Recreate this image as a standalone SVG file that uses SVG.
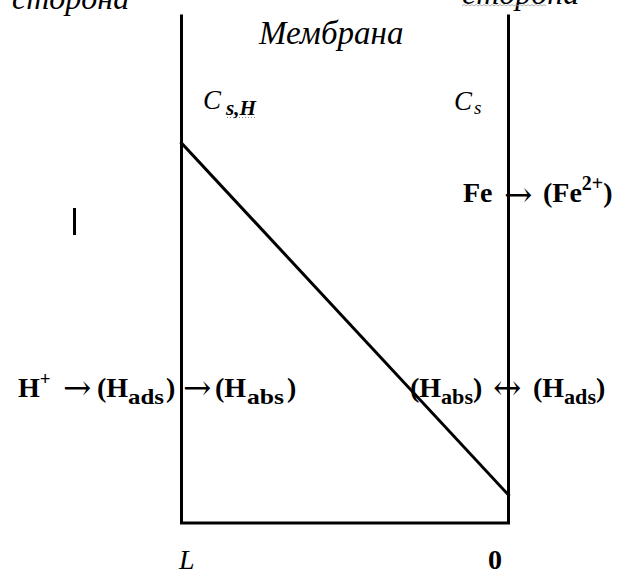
<svg xmlns="http://www.w3.org/2000/svg" width="617" height="570" viewBox="0 0 617 570">
<style>
.it{font-family:"Liberation Serif","Times New Roman",serif;font-style:italic;fill:#000}
.b{font-family:"Liberation Serif","Times New Roman",serif;font-weight:bold;fill:#000}
.ar{font-family:"DejaVu Serif","DejaVu Sans",serif;font-weight:normal;font-size:34px;fill:#000}
.sub{font-size:22px}
.ln{stroke:#000;stroke-width:3;fill:none;stroke-linecap:square}
</style>
<rect width="617" height="570" fill="#fff"/>
<g id="side-left"><text class="it" x="12" y="9" font-size="32">сторона</text></g>
<g id="side-right"><text class="it" x="462" y="3.5" font-size="32">сторона</text>
<path d="M462 6 l2 -1.5 l2 1.5 l2 -1.5 l2 1.5 l2 -1.5 l2 1.5 l2 -1.5 l2 1.5 l2 -1.5 l2 1.5 l2 -1.5 l2 1.5 l2 -1.5 l2 1.5 l2 -1.5 l2 1.5 l2 -1.5 l2 1.5 l2 -1.5 l2 1.5 l2 -1.5 l2 1.5 l2 -1.5 l2 1.5 l2 -1.5 l2 1.5 l2 -1.5 l2 1.5 l2 -1.5 l2 1.5 l2 -1.5 l2 1.5 l2 -1.5 l2 1.5 l2 -1.5 l2 1.5 l2 -1.5 l2 1.5 l2 -1.5 l2 1.5 l2 -1.5 l2 1.5" stroke="#999" stroke-width="0.8" fill="none"/></g>
<g id="membrane">
<path class="ln" d="M181.5 16 V523 H508.5 V16"/>
<text class="it" x="259" y="44" font-size="33">Мембрана</text>
</g>
<g id="connectors">
<line class="ln" x1="181.5" y1="143" x2="508.5" y2="495" stroke-linecap="butt"/>
</g>
<g id="c-left"><text class="it" x="203" y="109" font-size="27">C</text><text class="it" font-weight="bold" x="226" y="115" font-size="20" textLength="30" lengthAdjust="spacingAndGlyphs">s,H</text>
<line x1="227" y1="117.5" x2="256" y2="117.5" stroke="#888" stroke-width="1" stroke-dasharray="1,2"/></g>
<g id="c-right"><text class="it" x="454" y="110" font-size="27">C</text><text class="it" x="474" y="114" font-size="19">s</text></g>
<g id="cursor"><line x1="74.5" y1="208" x2="74.5" y2="235" stroke="#000" stroke-width="3"/></g>
<g id="fe-reaction">
<text class="b" font-size="28" x="463" y="202">Fe</text>
<text class="ar" x="504" y="206">→</text>
<text class="b" font-size="28" x="543" y="202">(Fe<tspan font-size="20" y="190">2+</tspan><tspan y="202">)</tspan></text>
</g>
<g id="h-left">
<text class="b" font-size="28" x="18" y="397">H<tspan font-size="19" y="385">+</tspan></text>
<text class="ar" x="63" y="399">→</text>
<text class="b" font-size="28" x="97" y="397">(H</text><text class="b sub" x="128" y="404" textLength="36" lengthAdjust="spacingAndGlyphs">ads</text><text class="b" font-size="28" x="166" y="397">)</text>
<text class="ar" x="183" y="399">→</text>
<text class="b" font-size="28" x="215" y="397">(H</text><text class="b sub" x="247" y="404" textLength="37" lengthAdjust="spacingAndGlyphs">abs</text><text class="b" font-size="28" x="287" y="397">)</text>
</g>
<g id="h-right">
<text class="b" font-size="28" x="410" y="397">(H</text><text class="b sub" x="441" y="404" textLength="32" lengthAdjust="spacingAndGlyphs">abs</text><text class="b" font-size="28" x="473" y="397">)</text>
<text class="ar" x="493" y="399">↔</text>
<text class="b" font-size="28" x="533" y="397">(H</text><text class="b sub" x="564" y="404" textLength="32" lengthAdjust="spacingAndGlyphs">ads</text><text class="b" font-size="28" x="596" y="397">)</text>
</g>
<g id="axis-labels"><text class="it" x="179" y="569" font-size="28">L</text><text class="b" x="488" y="569" font-size="28">0</text></g>
</svg>
